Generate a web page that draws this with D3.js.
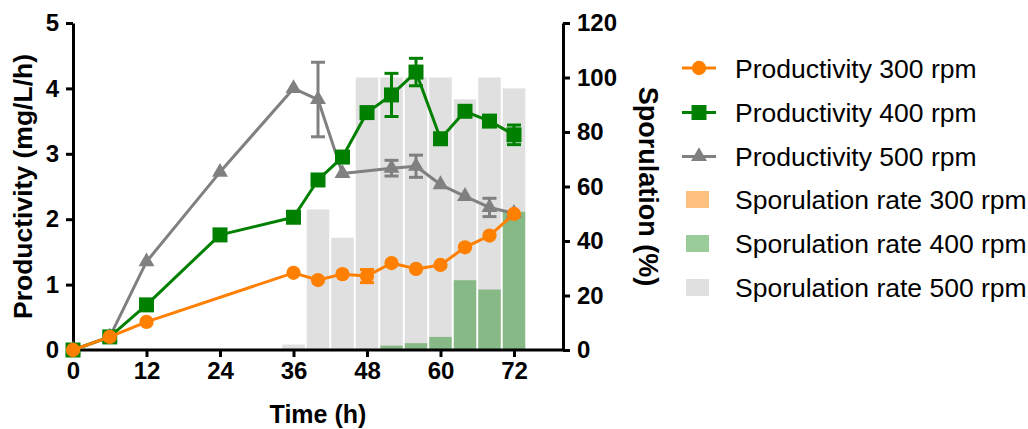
<!DOCTYPE html>
<html>
<head>
<meta charset="utf-8">
<script src="https://cdn.jsdelivr.net/npm/d3@7"></script>
<style>
  html, body { margin: 0; padding: 0; background: #fff; }
  svg { display: block; }
  text { font-family: "Liberation Sans", Arial, Helvetica, sans-serif; }
</style>
</head>
<body>
<svg id="chart" width="1028" height="429"></svg>
<script>
// ---------- data ----------
const time300 = [0, 6, 12, 36, 40, 44, 48, 52, 56, 60, 64, 68, 72];
const prod300 = [0, 0.2, 0.43, 1.18, 1.07, 1.16, 1.13, 1.33, 1.24, 1.30, 1.57, 1.75, 2.08];
const err300  = [0, 0, 0, 0, 0, 0, 0.10, 0, 0, 0, 0, 0, 0];

const time400 = [0, 6, 12, 24, 36, 40, 44, 48, 52, 56, 60, 64, 68, 72];
const prod400 = [0, 0.2, 0.69, 1.76, 2.03, 2.60, 2.95, 3.63, 3.90, 4.25, 3.23, 3.65, 3.50, 3.29];
const err400  = [0, 0, 0, 0, 0, 0, 0, 0, 0.33, 0.21, 0, 0, 0, 0.15];

const time500 = [0, 6, 12, 24, 36, 40, 44, 52, 56, 60, 64, 68, 72];
const prod500 = [0, 0.2, 1.35, 2.72, 4.00, 3.83, 2.70, 2.78, 2.81, 2.53, 2.35, 2.18, 2.09];
const err500  = [0, 0, 0, 0, 0, 0.57, 0, 0.12, 0.17, 0, 0, 0.14, 0];

const sporTime = [36, 40, 44, 48, 52, 56, 60, 64, 68, 72];
const spor300  = [0, 0, 0, 0, 0, 0, 0, 0, 0, 0];
const spor400  = [0, 0, 0, 0, 1.6, 2.5, 4.8, 25.6, 22.2, 50.7];
const spor500  = [2.0, 51.6, 41.2, 100, 100, 100, 100, 92, 100, 96];

const xTicks  = [0, 12, 24, 36, 48, 60, 72];
const yLTicks = [0, 1, 2, 3, 4, 5];
const yRTicks = [0, 20, 40, 60, 80, 100, 120];

const legendLabels = [
  "Productivity 300 rpm", "Productivity 400 rpm", "Productivity 500 rpm",
  "Sporulation rate 300 rpm", "Sporulation rate 400 rpm", "Sporulation rate 500 rpm"
];

// ---------- setup ----------
const svg = d3.select("#chart");
const orange = "#ff8000", green = "#008000", grey = "#808080";

const x  = d3.scaleLinear().domain([0, 80]).range([73, 563]);
const yL = d3.scaleLinear().domain([0, 5]).range([350, 23]);
const yR = d3.scaleLinear().domain([0, 120]).range([350, 23]);

// ---------- bars ----------
const barW = x(4) - x(0) - 2;
function drawBars(vals, fill, opacity) {
  svg.append("g").selectAll("rect").data(sporTime).join("rect")
    .attr("x", (d) => x(d) - barW / 2)
    .attr("width", barW)
    .attr("y", (d, i) => yR(vals[i]))
    .attr("height", (d, i) => yR(0) - yR(vals[i]))
    .attr("fill", fill)
    .attr("fill-opacity", opacity);
}
drawBars(spor500, "#e0e0e0", 1);
drawBars(spor300, orange, 0.5);
drawBars(spor400, green, 0.4);

// ---------- axes ----------
function styleAxis(g) {
  g.selectAll("path.domain").attr("stroke", "#000").attr("stroke-width", 3);
  g.selectAll(".tick line").attr("stroke", "#000").attr("stroke-width", 3);
  g.selectAll(".tick text")
    .attr("fill", "#000")
    .style("font-family", '"Liberation Sans", Arial, sans-serif')
    .style("font-weight", "bold")
    .style("font-size", "24px");
}
const fmt = d3.format("d");

const gx = svg.append("g").attr("transform", "translate(0,350)")
  .call(d3.axisBottom(x).tickValues(xTicks).tickFormat(fmt).tickSize(7).tickSizeOuter(0).tickPadding(5))
  .call(styleAxis);
gx.select("path.domain").attr("d", `M${x(0)},0H${x(80)}`);

const gl = svg.append("g").attr("transform", `translate(${x(0)},0)`)
  .call(d3.axisLeft(yL).tickValues(yLTicks).tickFormat(fmt).tickSize(7).tickSizeOuter(0).tickPadding(7))
  .call(styleAxis);

const gr = svg.append("g").attr("transform", `translate(${x(80)},0)`)
  .call(d3.axisRight(yR).tickValues(yRTicks).tickFormat(fmt).tickSize(7).tickSizeOuter(0).tickPadding(7))
  .call(styleAxis);

// axis titles
svg.append("text")
  .attr("transform", `translate(32,${(23 + 350) / 2}) rotate(-90)`)
  .attr("text-anchor", "middle")
  .style("font-weight", "bold").style("font-size", "26.5px")
  .text("Productivity (mg/L/h)");

svg.append("text")
  .attr("transform", `translate(639,${(23 + 350) / 2}) rotate(90)`)
  .attr("text-anchor", "middle")
  .style("font-weight", "bold").style("font-size", "27px")
  .text("Sporulation (%)");

svg.append("text")
  .attr("x", (x(0) + x(80)) / 2).attr("y", 423)
  .attr("text-anchor", "middle")
  .style("font-weight", "bold").style("font-size", "25px")
  .text("Time (h)");

// ---------- lines ----------
const symCircle = d3.symbol().type(d3.symbolCircle).size(160);
const symSquare = d3.symbol().type(d3.symbolSquare).size(225);
const symTri    = d3.symbol().type(d3.symbolTriangle).size(110);

function drawSeries(times, vals, errs, color, sym) {
  const g = svg.append("g");
  const pts = times.map((t, i) => [t, vals[i], errs[i]]);
  const eb = g.selectAll("g.eb").data(pts.filter((p) => p[2] > 0)).join("g");
  eb.append("line")
    .attr("x1", (p) => x(p[0])).attr("x2", (p) => x(p[0]))
    .attr("y1", (p) => yL(p[1] - p[2])).attr("y2", (p) => yL(p[1] + p[2]))
    .attr("stroke", color).attr("stroke-width", 3);
  [-1, 1].forEach((s) => {
    eb.append("line")
      .attr("x1", (p) => x(p[0]) - 7).attr("x2", (p) => x(p[0]) + 7)
      .attr("y1", (p) => yL(p[1] + s * p[2])).attr("y2", (p) => yL(p[1] + s * p[2]))
      .attr("stroke", color).attr("stroke-width", 3);
  });
  g.append("path")
    .attr("d", d3.line().x((p) => x(p[0])).y((p) => yL(p[1]))(pts))
    .attr("fill", "none").attr("stroke", color).attr("stroke-width", 3)
    .attr("stroke-linejoin", "round");
  g.selectAll("path.pt").data(pts).join("path")
    .attr("class", "pt")
    .attr("transform", (p) => `translate(${x(p[0])},${yL(p[1])})`)
    .attr("d", sym())
    .attr("fill", color);
}
drawSeries(time500, prod500, err500, grey, symTri);
drawSeries(time400, prod400, err400, green, symSquare);
drawSeries(time300, prod300, err300, orange, symCircle);

// ---------- legend ----------
const legY = [68, 112.5, 156.5, 199.5, 243.5, 287.5];
const legColors = [orange, green, grey];
const legSyms = [symCircle, symSquare, symTri];
const leg = svg.append("g");
legendLabels.forEach((lab, i) => {
  const y = legY[i];
  if (i < 3) {
    leg.append("line").attr("x1", 682).attr("x2", 716).attr("y1", y).attr("y2", y)
      .attr("stroke", legColors[i]).attr("stroke-width", 3);
    leg.append("path").attr("transform", `translate(699,${y})`)
      .attr("d", legSyms[i]()).attr("fill", legColors[i]);
  } else {
    const fills = [[orange, 0.5], [green, 0.4], ["#e0e0e0", 1]][i - 3];
    leg.append("rect").attr("x", 686).attr("y", y - 8.5).attr("width", 23).attr("height", 17)
      .attr("fill", fills[0]).attr("fill-opacity", fills[1]);
  }
  leg.append("text").attr("x", 735).attr("y", y + 9.5)
    .style("font-size", "26.5px").attr("fill", "#000")
    .text(lab);
});
</script>
</body>
</html>
